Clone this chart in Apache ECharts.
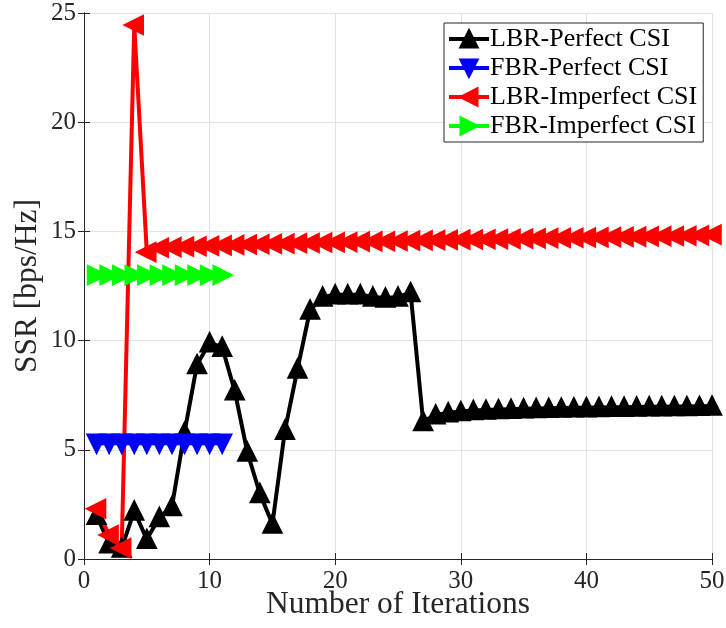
<!DOCTYPE html>
<html>
<head>
<meta charset="utf-8">
<script src="https://cdn.jsdelivr.net/npm/echarts@6/dist/echarts.min.js"></script>
<style>html,body{margin:0;padding:0;background:#fff;}#c{width:726px;height:628px;}</style>
</head>
<body>
<div id="c"></div>
<script>
var iterations = [1,2,3,4,5,6,7,8,9,10,11,12,13,14,15,16,17,18,19,20,21,22,23,24,25,26,27,28,29,30,31,32,33,34,35,36,37,38,39,40,41,42,43,44,45,46,47,48,49,50];
var lbrPerfect = [2.0,0.7,0.5,2.2,0.9,1.9,2.4,5.8,8.9,9.9,9.7,7.7,4.9,3.0,1.6,5.9,8.7,11.4,12.0,12.1,12.1,12.1,12.0,11.95,12.0,12.2,6.3,6.6,6.7,6.75,6.8,6.82,6.84,6.86,6.88,6.89,6.9,6.91,6.92,6.93,6.94,6.95,6.95,6.96,6.97,6.97,6.98,6.98,6.99,7.0];
var fbrPerfect = [5.3,5.3,5.3,5.3,5.3,5.3,5.3,5.3,5.3,5.3,5.3];
var lbrImperfect = [2.3,1.1,0.5,24.45,14.05,14.25,14.28,14.3,14.32,14.34,14.36,14.38,14.4,14.41,14.43,14.44,14.46,14.47,14.49,14.5,14.51,14.53,14.54,14.55,14.56,14.58,14.59,14.6,14.61,14.62,14.63,14.64,14.65,14.66,14.67,14.68,14.69,14.7,14.71,14.72,14.73,14.74,14.75,14.76,14.77,14.78,14.79,14.8,14.82,14.85];
var fbrImperfect = [13.0,13.0,13.0,13.0,13.0,13.0,13.0,13.0,13.0,13.0,13.0];
var xTicks = [0,10,20,30,40,50];
var yTicks = [0,5,10,15,20,25];

function pairs(vals){ return vals.map(function(v,i){ return [iterations[i], v]; }); }
var FONT = "'Liberation Serif','Times New Roman',serif";
var AX = '#262626';

function mk(name, vals, color, rot){
  return {
    name: name, type: 'line', data: pairs(vals),
    xAxisIndex: 0, yAxisIndex: 0,
    symbol: 'triangle', symbolSize: 16, symbolRotate: rot,
    showAllSymbol: true,
    lineStyle: {color: color, width: 4},
    itemStyle: {color: color, borderColor: color, borderWidth: 3.5},
    emphasis: {disabled: true},
    animation: false
  };
}

var chart = echarts.init(document.getElementById('c'), null, {renderer: 'canvas'});
chart.setOption({
  animation: false,
  backgroundColor: '#fff',
  grid: {left: 84, right: 14, top: 13, bottom: 69, show: false, containLabel: false, outerBoundsMode: 'none'},
  legend: {
    orient: 'vertical', left: 444, top: 23,
    padding: [3, 6, 3, 3],
    itemGap: 3, itemWidth: 40, itemHeight: 20,
    backgroundColor: '#fff', borderColor: AX, borderWidth: 1,
    textStyle: {fontFamily: FONT, fontSize: 26, color: '#000', padding: [0,0,0,-4]},
    symbolRotate: 'inherit',
    lineStyle: {width: 4},
    itemStyle: {borderWidth: 3},
    data: ['LBR-Perfect CSI','FBR-Perfect CSI','LBR-Imperfect CSI','FBR-Imperfect CSI']
  },
  xAxis: [{
    type: 'value', min: 0, max: 50, interval: 10,
    name: 'Number of Iterations', nameLocation: 'middle', nameGap: 30, nameMoveOverlap: false,
    nameTextStyle: {fontFamily: FONT, fontSize: 31.5, color: '#262626'},
    axisLine: {show: true, lineStyle: {color: AX, width: 1}},
    axisTick: {show: true, inside: true, length: 6, lineStyle: {color: AX}},
    axisLabel: {fontFamily: FONT, fontSize: 25, color: '#262626', margin: 10,
      formatter: function(v){ return xTicks.indexOf(v) >= 0 ? String(v) : ''; }},
    splitLine: {show: true, lineStyle: {color: '#e3e3e3', width: 1}}
  },{
    type: 'value', min: 0, max: 50, interval: 10, position: 'top',
    axisLine: {show: true, lineStyle: {color: AX, width: 1}},
    axisTick: {show: true, inside: true, length: 6, lineStyle: {color: AX}},
    axisLabel: {show: false}, splitLine: {show: false}
  }],
  yAxis: [{
    type: 'value', min: 0, max: 25, interval: 5,
    name: 'SSR [bps/Hz]', nameLocation: 'middle', nameGap: 40, nameMoveOverlap: false,
    nameTextStyle: {fontFamily: FONT, fontSize: 31.5, color: '#262626'},
    axisLine: {show: true, lineStyle: {color: AX, width: 1}},
    axisTick: {show: true, inside: true, length: 6, lineStyle: {color: AX}},
    axisLabel: {fontFamily: FONT, fontSize: 25, color: '#262626', margin: 8,
      formatter: function(v){ return yTicks.indexOf(v) >= 0 ? String(v) : ''; }},
    splitLine: {show: true, lineStyle: {color: '#e3e3e3', width: 1}}
  },{
    type: 'value', min: 0, max: 25, interval: 5, position: 'right',
    axisLine: {show: true, lineStyle: {color: AX, width: 1}},
    axisTick: {show: true, inside: true, length: 6, lineStyle: {color: AX}},
    axisLabel: {show: false}, splitLine: {show: false}
  }],
  series: [
    mk('LBR-Perfect CSI', lbrPerfect, '#000000', 0),
    mk('FBR-Perfect CSI', fbrPerfect, '#0000ff', 180),
    mk('LBR-Imperfect CSI', lbrImperfect, '#ff0000', 90),
    mk('FBR-Imperfect CSI', fbrImperfect, '#00ff00', -90)
  ]
});
</script>
</body>
</html>
